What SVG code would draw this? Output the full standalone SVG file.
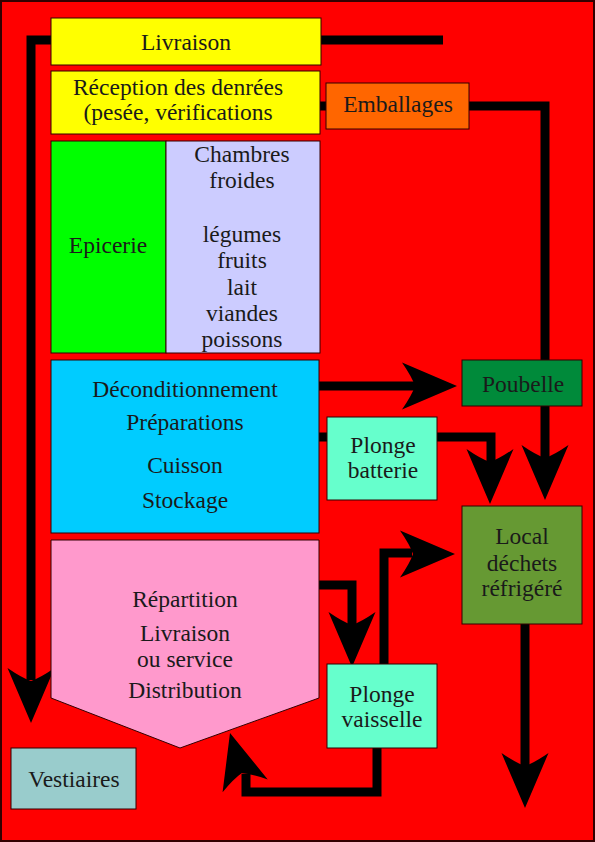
<svg xmlns="http://www.w3.org/2000/svg" width="595" height="842" viewBox="0 0 595 842">
<style>
.n{stroke:#330000;stroke-width:1}
.c{fill:none;stroke:#000;stroke-width:9;stroke-linejoin:miter;stroke-linecap:butt}
</style>
<defs>
<path id="ah" d="M0,0 L-55,-23.5 Q-45,-9 -42,0 Q-45,9 -55,23.5 Z" fill="#000"/>
</defs>
<rect x="1" y="1" width="593" height="840" fill="#FF0000" stroke="#330000" stroke-width="2"/>
<g id="connectors">
<path class="c" d="M51,40 H31 V680"/>
<use href="#ah" transform="translate(31,723) rotate(90)"/>
<path class="c" d="M321,40 H443"/>
<path class="c" d="M320,106 H545 V460"/>
<use href="#ah" transform="translate(545,500) rotate(90)"/>
<path class="c" d="M319,386 H415"/>
<use href="#ah" transform="translate(457,386)"/>
<path class="c" d="M319,437 H491 V462"/>
<use href="#ah" transform="translate(490,504) rotate(90)"/>
<path class="c" d="M319,585 H352 V625"/>
<use href="#ah" transform="translate(352,667) rotate(90)"/>
<path class="c" d="M384,664 V553 H412"/>
<use href="#ah" transform="translate(455,554)"/>
<path class="c" d="M377,748 V792 H246 V774"/>
<use href="#ah" transform="translate(230,733) rotate(-106)"/>
<path class="c" d="M525,624 V766"/>
<use href="#ah" transform="translate(525,808) rotate(90)"/>
</g>
<g font-family="'Liberation Serif', 'Times New Roman', serif" font-size="23.5" fill="#1a1a1a" text-anchor="middle">
<g id="livraison">
<rect class="n" x="51" y="18" width="270" height="47" fill="#FFFF00"/>
<text x="186" y="50">Livraison</text>
</g>
<g id="reception">
<rect class="n" x="51" y="71" width="269" height="63" fill="#FFFF00"/>
<text x="178" y="95">Réception des denrées</text>
<text x="178" y="120">(pesée, vérifications</text>
</g>
<g id="emballages">
<rect class="n" x="326" y="83" width="143" height="46" fill="#FF6600"/>
<text x="398" y="112">Emballages</text>
</g>
<g id="epicerie">
<rect class="n" x="51" y="141" width="115" height="212" fill="#00FF00"/>
<text x="108" y="253">Epicerie</text>
</g>
<g id="chambres-froides">
<rect class="n" x="166" y="141" width="154" height="212" fill="#CCCCFF"/>
<text x="242" y="162">Chambres</text>
<text x="242" y="188">froides</text>
<text x="242" y="242">légumes</text>
<text x="242" y="268">fruits</text>
<text x="242" y="295">lait</text>
<text x="242" y="321">viandes</text>
<text x="242" y="347">poissons</text>
</g>
<g id="deconditionnement">
<rect class="n" x="51" y="360" width="268" height="173" fill="#00CCFF"/>
<text x="185" y="397">Déconditionnement</text>
<text x="185" y="430">Préparations</text>
<text x="185" y="473">Cuisson</text>
<text x="185" y="508">Stockage</text>
</g>
<g id="poubelle">
<rect class="n" x="462" y="360" width="120" height="46" fill="#008A3A"/>
<text x="523" y="392">Poubelle</text>
</g>
<g id="plonge-batterie">
<rect class="n" x="327" y="417" width="110" height="83" fill="#66FFCC"/>
<text x="383" y="453">Plonge</text>
<text x="383" y="478">batterie</text>
</g>
<g id="local-dechets">
<rect class="n" x="462" y="506" width="120" height="118" fill="#669933"/>
<text x="522" y="544">Local</text>
<text x="522" y="571">déchets</text>
<text x="522" y="596">réfrigéré</text>
</g>
<g id="repartition">
<polygon class="n" points="51,540 319,540 319,698 180,748 51,698" fill="#FF99CC"/>
<text x="185" y="607">Répartition</text>
<text x="185" y="641">Livraison</text>
<text x="185" y="667">ou service</text>
<text x="185" y="698">Distribution</text>
</g>
<g id="plonge-vaisselle">
<rect class="n" x="327" y="664" width="110" height="84" fill="#66FFCC"/>
<text x="382" y="702">Plonge</text>
<text x="382" y="727">vaisselle</text>
</g>
<g id="vestiaires">
<rect class="n" x="11" y="748" width="125" height="61" fill="#99CCCC"/>
<text x="74" y="787">Vestiaires</text>
</g>
</g>
</svg>
